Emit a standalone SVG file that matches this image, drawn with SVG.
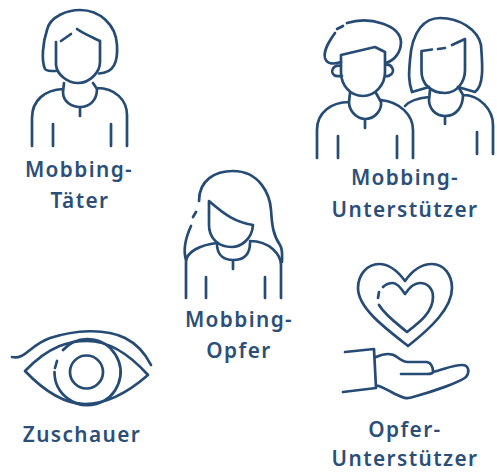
<svg xmlns="http://www.w3.org/2000/svg" width="497" height="472" viewBox="0 0 497 472">
<style>
.i{fill:none;stroke:#264b75;stroke-width:2.7;stroke-linecap:round;stroke-linejoin:round}
text{font-family:"Noto Sans","Lato",sans-serif;font-weight:600;font-size:20.800px;letter-spacing:1.4px;fill:#2b4f78;text-anchor:middle}
</style>
<rect width="497" height="472" fill="#fff"/>
<g id="mobbing-taeter">
<path class="i" d="M56 71C50 71 46 71 45 69C41 60 43 42 47 30C50 16 68 10 80 10C100 10 116 25 117 45C118 62 114 73 99 73.500"/>
<path class="i" d="M56 42V65C57 75 68 83 78 83C90 83 100 72 100 62V41C92 37 84 34 77 29M61 41L71 34"/>
<path class="i" d="M64 83L63 92C63 102 72 107 80 107C90 107 97 100 97 89L93 83M32 146V118C32 100 45 90 63 89M97 88C115 88 127 100 127 115V146M53 124V146M111 124V146M80 107V116"/>
<text x="79" y="177">Mobbing-</text>
<text x="80" y="208">Täter</text>
</g>
<g id="mobbing-unterstuetzer">
<path class="i" d="M337 29L343 26M347 23C370 16 400 25 401 42C401 52 395 60 386 63M335 33C330 40 323 50 325 58C327 65 335 64 341 62"/>
<path class="i" d="M341 55L375 47L385 52V72C385 85 375 96 363 96C350 96 341 85 341 72ZM341 66C333 64 330 72 334 75C336 77 339 76 342 76M385 65C392 63 396 72 390 75C388 77 385 76 385 75"/>
<path class="i" d="M350 93L349 102C349 112 358 119 365 119C375 119 382 110 381 102L376 93M317 158V130C317 112 332 102 349 102M381 100C400 102 413 115 413 130V158M338 136V158M397 136V158M365 119V128"/>
<path class="i" d="M429 87L412 92C408 80 409 72 410 60C412 30 425 18 440 18C460 18 478 30 481 45C482 60 485 85 475 92L458 87"/>
<path class="i" d="M421.500 51V70C421 85 432 93 445 93C457 93 465 82 465 70V39L452 45M422 51L432 49.500M438 49L445 48"/>
<path class="i" d="M430 90L429 100C429 108 435 116 445 116C457 116 463 106 463 95L459 88M405 106C410 100 420 98 429 97M463 95C480 95 493 110 493 125V154M477 132V154M445 116V124"/>
<text x="405" y="185">Mobbing-</text>
<text x="405" y="217">Unterstützer</text>
</g>
<g id="mobbing-opfer">
<path class="i" d="M193 217L196 212M191 226C186 237 183 250 186 260M199 201C199 180 215 171 233 171C260 171 270 195 271 210C272 225 273 235 280 245C283 250 282 255 282 262"/>
<path class="i" d="M209 201C225 215 235 222 253 225C252 240 240 247 232 247C218 247 209 238 209 225Z"/>
<path class="i" d="M217 244C217 256 225 260 233 260C245 260 250 253 250 243M186 298V262C186 252 200 245 217 243M250 241C270 241 281 255 281 265V298M206 277V298M265 277V298M233 260V269"/>
<text x="239" y="327">Mobbing-</text>
<text x="239" y="358">Opfer</text>
</g>
<g id="zuschauer">
<path class="i" d="M12 357C25 360 30 345 50 338C75 330 105 328 125 338C135 343 145 353 151 365"/>
<path class="i" d="M25 371C50 345 70 341 87 341C110 341 130 355 148 375C125 395 105 404 85 404C65 404 45 392 25 371Z"/>
<path class="i" d="M54.500 372A33 33 0 1 0 63 350M55 368L57 361"/>
<circle class="i" cx="86.500" cy="372" r="16.500"/>
<text x="82" y="442">Zuschauer</text>
</g>
<g id="opfer-unterstuetzer">
<path class="i" d="M405 281C397 270 389 264 379 264C367 264 358 275 358 288C358 308 385 328 408 346C431 328 452 308 452 288C452 275 444 264 432 264C421 264 412 271 405 281Z"/>
<path class="i" d="M379 305C385 315 395 322 407 332C420 322 433 312 433 297C433 288 427 283 420 283C414 283 409 288 405 294C401 288 397 283 393 283C389 283 386 284 383 287M379 292L378 298"/>
<path class="i" d="M345 352L374 349L376 388L343 392M376 357C385 353 392 353 397 357C402 361 405 362 408 362C415 362 420 362 427 362C431 363 433 367 433 372C443 370 452 365 462 365C469 365 470 372 466 377C460 382 435 391 413 397C405 400 400 396 395 394C388 390 382 387 376 385M401 374L427 374C431 374 433 373 433 372"/>
<text x="405" y="437">Opfer-</text>
<text x="405" y="466">Unterstützer</text>
</g>
</svg>
